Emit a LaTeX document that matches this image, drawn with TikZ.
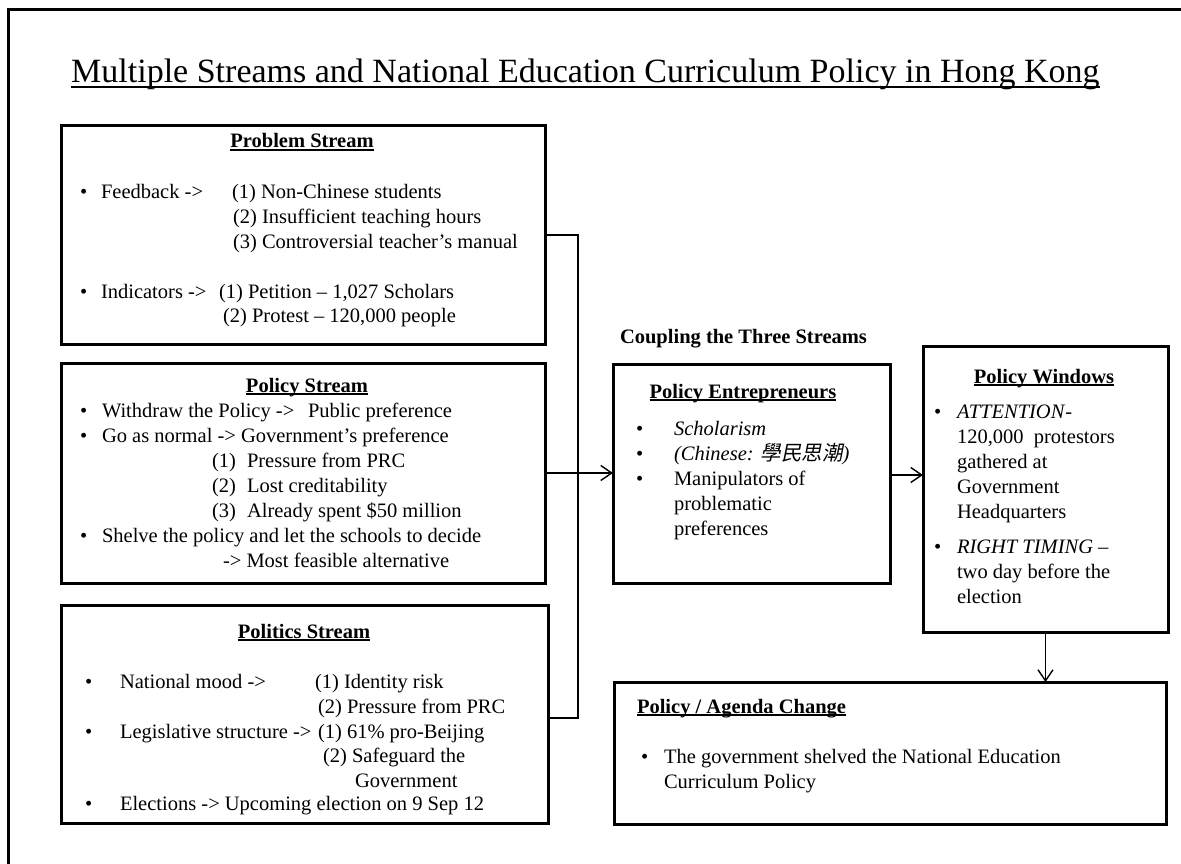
\documentclass[tikz,border=0pt]{standalone}
\usepackage{fontspec}
\setmainfont{Liberation Serif}
\newfontfamily\cjkfont[FakeSlant=0.2]{Noto Sans CJK TC}
\usetikzlibrary{arrows.meta}

% underline at a fixed depth below the baseline: #1 depth, #2 thickness, #3 text
\newcommand\ulined[3]{\setbox0=\hbox{#3}\rlap{\rule[-#1]{\wd0}{#2}}\box0}
\newcommand\bodyfont{\fontsize{20.5}{24}\selectfont}
\newcommand\headfont{\fontsize{20.5}{24}\selectfont\bfseries}

\tikzset{
  box/.style={draw, line width=3pt, inner sep=0pt, outer sep=0pt, anchor=north west},
  txt/.style={anchor=base west, inner sep=0pt, outer sep=0pt, font=\bodyfont},
  head/.style={anchor=base, inner sep=0pt, outer sep=0pt, font=\headfont},
  headw/.style={anchor=base west, inner sep=0pt, outer sep=0pt, font=\headfont},
  link/.style={line width=1.4pt},
  arr/.style={line width=1.4pt, -{Straight Barb[length=11pt,width=15pt]}},
}

\begin{document}
\begin{tikzpicture}[x=1pt, y=-1pt]
\useasboundingbox (0,0) rectangle (1181,864);

% outer frame, running off the right and bottom edges
\begin{scope}
  \clip (0,0) rectangle (1181,864);
  \draw[line width=3pt] (8,10) rectangle (1210,900);
\end{scope}

% title
\node[anchor=base west, inner sep=0pt, font=\fontsize{34}{40}\selectfont] (title) at (71,83)
  {\ulined{5pt}{1.8pt}{Multiple Streams and National Education Curriculum Policy in Hong Kong}};

% ---------- boxes ----------
\node[box, minimum width=484pt, minimum height=218pt] (prob)  at (61,126) {};
\node[box, minimum width=484pt, minimum height=220pt] (pol)   at (61,363) {};
\node[box, minimum width=487pt, minimum height=218pt] (polit) at (61,605) {};
\node[box, minimum width=277pt, minimum height=219pt] (ent)   at (613,364) {};
\node[box, minimum width=245pt, minimum height=286pt] (win)   at (923,346) {};
\node[box, minimum width=552pt, minimum height=142pt] (chg)   at (614,682) {};

% ---------- Problem Stream ----------
\node[head] (prh) at (302,148) {\ulined{2.6pt}{1.2pt}{Problem Stream}};
\node[txt] (prb1) at (80,198) {\textbullet};
\node[txt] (pr1)  at (101,198) {Feedback ->};
\node[txt] (pr1a) at (232,198) {(1) Non-Chinese students};
\node[txt] (pr1b) at (233,223) {(2) Insufficient teaching hours};
\node[txt] (pr1c) at (233,248) {(3) Controversial teacher’s manual};
\node[txt] (prb2) at (80,298) {\textbullet};
\node[txt] (pr2)  at (101,298) {Indicators ->};
\node[txt] (pr2a) at (219,298) {(1) Petition – 1,027 Scholars};
\node[txt] (pr2b) at (223,322) {(2) Protest – 120,000 people};

% ---------- Policy Stream ----------
\node[head] (poh) at (307,392) {\ulined{2.6pt}{1.2pt}{Policy Stream}};
\node[txt] (pob1) at (80,417) {\textbullet};
\node[txt] (po1)  at (102,417) {Withdraw the Policy ->};
\node[txt] (po1a) at (308,417) {Public preference};
\node[txt] (pob2) at (80,442) {\textbullet};
\node[txt] (po2)  at (102,442) {Go as normal -> Government’s preference};
\node[txt] (po2n1) at (212,467) {(1)};
\node[txt] (po2a)  at (247,467) {Pressure from PRC};
\node[txt] (po2n2) at (212,492) {(2)};
\node[txt] (po2b)  at (247,492) {Lost creditability};
\node[txt] (po2n3) at (212,517) {(3)};
\node[txt] (po2c)  at (247,517) {Already spent \$50 million};
\node[txt] (pob3) at (80,542) {\textbullet};
\node[txt] (po3)  at (102,542) {Shelve the policy and let the schools to decide};
\node[txt] (po3a) at (223,567) {-> Most feasible alternative};

% ---------- Politics Stream ----------
\node[head] (plh) at (304,638) {\ulined{2.6pt}{1.2pt}{Politics Stream}};
\node[txt] (plb1) at (85,688) {\textbullet};
\node[txt] (pl1)  at (120,688) {National mood ->};
\node[txt] (pl1a) at (315,688) {(1) Identity risk};
\node[txt] (pl1b) at (318,713) {(2) Pressure from PRC};
\node[txt] (plb2) at (85,738) {\textbullet};
\node[txt] (pl2)  at (120,738) {Legislative structure ->};
\node[txt] (pl2a) at (318,738) {(1) 61\% pro-Beijing};
\node[txt] (pl2b) at (323,762) {(2) Safeguard the};
\node[txt] (pl2c) at (355,787) {Government};
\node[txt] (plb3) at (85,810) {\textbullet};
\node[txt] (pl3)  at (120,810) {Elections -> Upcoming election on 9 Sep 12};

% ---------- Coupling ----------
\node[headw] (cpl) at (620,343) {Coupling the Three Streams};

% ---------- Policy Entrepreneurs ----------
\node[head] (enh) at (743,398) {\ulined{2.6pt}{1.2pt}{Policy Entrepreneurs}};
\node[txt] (enb1) at (636,435) {\textbullet};
\node[txt] (en1)  at (674,435) {\textit{Scholarism}};
\node[txt] (enb2) at (636,460) {\textbullet};
\node[txt] (en2)  at (674,460) {\textit{(Chinese: {\cjkfont 學民思潮})}};
\node[txt] (enb3) at (636,485) {\textbullet};
\node[txt] (en3a) at (674,485) {Manipulators of};
\node[txt] (en3b) at (674,510) {problematic};
\node[txt] (en3c) at (674,535) {preferences};

% ---------- Policy Windows ----------
\node[head] (wih) at (1044,383) {\ulined{2.6pt}{1.2pt}{Policy Windows}};
\node[txt] (wib1) at (934,418) {\textbullet};
\node[txt] (wi1a) at (957,418) {\textit{ATTENTION}-};
\node[txt] (wi1b) at (957,443) {120,000\ \ protestors};
\node[txt] (wi1c) at (957,468) {gathered at};
\node[txt] (wi1d) at (957,493) {Government};
\node[txt] (wi1e) at (957,518) {Headquarters};
\node[txt] (wib2) at (934,553) {\textbullet};
\node[txt] (wi2a) at (957,553) {\textit{RIGHT TIMING} –};
\node[txt] (wi2b) at (957,578) {two day before the};
\node[txt] (wi2c) at (957,603) {election};

% ---------- Policy / Agenda Change ----------
\node[headw] (chh) at (637,713) {\ulined{2.6pt}{1.2pt}{Policy / Agenda Change}};
\node[txt] (chb1) at (641,763) {\textbullet};
\node[txt] (ch1a) at (664,763) {The government shelved the National Education};
\node[txt] (ch1b) at (664,788) {Curriculum Policy};

% ---------- connectors ----------
\coordinate (jt) at (578,235);
\coordinate (jb) at (578,718);
\draw[link] (prob.east |- jt) -- (jt) -- (jb) -- (polit.east |- jb);
\coordinate (a1) at (0,473);
\draw[arr] (pol.east |- a1) -- (ent.west |- a1);
\coordinate (a2) at (0,475);
\draw[arr] (ent.east |- a2) -- (win.west |- a2);
\draw[arr] (win.south) -- (win.south |- chg.north);
\end{tikzpicture}
\end{document}
